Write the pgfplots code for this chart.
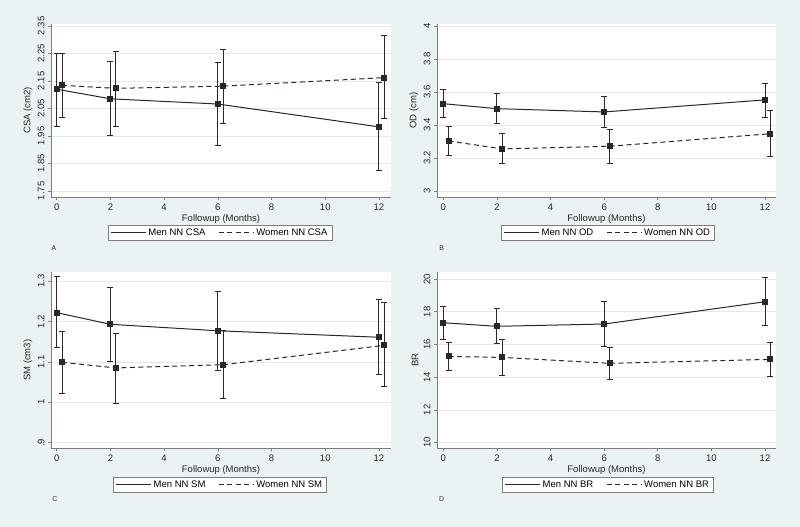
\documentclass[border=0pt]{standalone}
\usepackage{fontspec}
\setmainfont{Liberation Sans}
\usepackage{pgfplots}
\usepackage{pgfplotstable}
\pgfplotsset{compat=1.18}
\definecolor{bg}{RGB}{234,242,243}
\definecolor{gridc}{RGB}{226,234,236}
\definecolor{axc}{RGB}{125,125,125}
\definecolor{ln}{RGB}{40,40,40}

% x y lo hi
\pgfplotstableread{
x y lo hi
0 2.120 1.986 2.248
2 2.085 1.950 2.220
6 2.066 1.915 2.218
12 1.983 1.824 2.145
}\menA
\pgfplotstableread{
x y lo hi
0.2 2.134 2.018 2.248
2.2 2.123 1.986 2.257
6.2 2.131 1.994 2.265
12.2 2.162 2.012 2.314
}\womenA
\pgfplotstableread{
x y lo hi
0 3.529 3.448 3.612
2 3.499 3.408 3.590
6 3.479 3.384 3.574
12 3.552 3.448 3.650
}\menB
\pgfplotstableread{
x y lo hi
0.2 3.303 3.216 3.390
2.2 3.255 3.166 3.347
6.2 3.271 3.168 3.370
12.2 3.347 3.210 3.489
}\womenB
\pgfplotstableread{
x y lo hi
0 1.222 1.135 1.312
2 1.193 1.100 1.284
6 1.177 1.079 1.275
12 1.161 1.070 1.254
}\menC
\pgfplotstableread{
x y lo hi
0.2 1.099 1.022 1.176
2.2 1.085 0.998 1.171
6.2 1.093 1.010 1.177
12.2 1.141 1.038 1.248
}\womenC
\pgfplotstableread{
x y lo hi
0 17.33 16.31 18.33
2 17.11 16.03 18.19
6 17.25 15.89 18.61
12 18.61 17.15 20.10
}\menD
\pgfplotstableread{
x y lo hi
0.2 15.27 14.40 16.15
2.2 15.21 14.13 16.29
6.2 14.85 13.89 15.82
12.2 15.09 14.05 16.11
}\womenD

\pgfplotsset{
  panel/.style={
    scale only axis, width=340pt, height=173pt,
    axis lines=left, axis line style={-, axc, line width=0.6pt},
    axis background/.style={fill=white},
    tick align=outside, major tick length=3pt, tick style={axc, line width=0.6pt},
    xtick={0,2,4,6,8,10,12}, xticklabels={0,2,4,6,8,10,12},
    ymajorgrids, grid style={gridc, line width=0.6pt},
    ticklabel style={font=\fontsize{9.5}{11}\selectfont, text=black!85},
    yticklabel style={rotate=90, anchor=south},
    label style={font=\fontsize{9.5}{11}\selectfont, text=black!85},
    xlabel={Followup (Months)},
    xlabel style={yshift=3pt},
    ylabel style={yshift=-1.5pt},
    legend columns=2,
    legend cell align=left,
    legend style={draw=axc, fill=white, anchor=center, line width=0.6pt,
      font=\fontsize{9.5}{11}\selectfont, inner xsep=2.5pt, inner ysep=1.5pt,
      /tikz/every even column/.append style={column sep=11pt}},
    legend image code/.code={\draw[##1, line width=0.9pt] (0pt,0pt) -- (35pt,0pt);},
  },
  men/.style={ln, line width=1pt, mark=square*, mark size=2.5pt, mark options={solid, fill=ln}},
  women/.style={ln, line width=1pt, dash pattern=on 5pt off 3.5pt, mark=square*, mark size=2.5pt, mark options={solid, fill=ln}},
  eb/.style={error bars/.cd, y dir=both, y explicit,
    error bar style={line width=1pt, solid, ln},
    error mark options={rotate=90, mark size=3pt, line width=1pt, solid, ln}},
}

\begin{document}
\begin{tikzpicture}[x=1pt,y=1pt]
\fill[bg] (0,0) rectangle (800,527);

% Panel A
\begin{axis}[panel, at={(51pt,330pt)}, anchor=south west,
  xmin=-0.212, xmax=12.447, ymin=1.728, ymax=2.357,
  ytick={1.75,1.85,1.95,2.05,2.15,2.25,2.35},
  yticklabels={1.75,1.85,1.95,2.05,2.15,2.25,2.35},
  ylabel={CSA (cm2)},
  legend style={at={(0.497,-0.205)}}]
\addplot+[men, eb] table[x=x, y=y, y error plus expr=\thisrow{hi}-\thisrow{y}, y error minus expr=\thisrow{y}-\thisrow{lo}] {\menA};
\addlegendentry{Men NN CSA}
\addplot+[women, eb] table[x=x, y=y, y error plus expr=\thisrow{hi}-\thisrow{y}, y error minus expr=\thisrow{y}-\thisrow{lo}] {\womenA};
\addlegendentry{Women NN CSA}
\end{axis}

% Panel B
\begin{axis}[panel, width=339pt, at={(437pt,330pt)}, anchor=south west,
  xmin=-0.235, xmax=12.41, ymin=2.9636, ymax=4.012,
  ytick={3,3.2,3.4,3.6,3.8,4},
  yticklabels={3,3.2,3.4,3.6,3.8,4},
  ylabel={OD (cm)},
  legend style={at={(0.504,-0.205)}}]
\addplot+[men, eb] table[x=x, y=y, y error plus expr=\thisrow{hi}-\thisrow{y}, y error minus expr=\thisrow{y}-\thisrow{lo}] {\menB};
\addlegendentry{Men NN OD}
\addplot+[women, eb] table[x=x, y=y, y error plus expr=\thisrow{hi}-\thisrow{y}, y error minus expr=\thisrow{y}-\thisrow{lo}] {\womenB};
\addlegendentry{Women NN OD}
\end{axis}

% Panel C
\begin{axis}[panel, height=176.5pt, at={(51pt,78.5pt)}, anchor=south west,
  xmin=-0.212, xmax=12.447, ymin=0.8856, ymax=1.3225,
  ytick={0.9,1,1.1,1.2,1.3},
  yticklabels={.9,1,1.1,1.2,1.3},
  ylabel={SM (cm3)},
  legend style={at={(0.497,-0.205)}}]
\addplot+[men, eb] table[x=x, y=y, y error plus expr=\thisrow{hi}-\thisrow{y}, y error minus expr=\thisrow{y}-\thisrow{lo}] {\menC};
\addlegendentry{Men NN SM}
\addplot+[women, eb] table[x=x, y=y, y error plus expr=\thisrow{hi}-\thisrow{y}, y error minus expr=\thisrow{y}-\thisrow{lo}] {\womenC};
\addlegendentry{Women NN SM}
\end{axis}

% Panel D
\begin{axis}[panel, width=339pt, height=176.5pt, at={(437pt,78.5pt)}, anchor=south west,
  xmin=-0.235, xmax=12.41, ymin=9.646, ymax=20.428,
  ytick={10,12,14,16,18,20},
  yticklabels={10,12,14,16,18,20},
  ylabel={BR},
  legend style={at={(0.504,-0.205)}}]
\addplot+[men, eb] table[x=x, y=y, y error plus expr=\thisrow{hi}-\thisrow{y}, y error minus expr=\thisrow{y}-\thisrow{lo}] {\menD};
\addlegendentry{Men NN BR}
\addplot+[women, eb] table[x=x, y=y, y error plus expr=\thisrow{hi}-\thisrow{y}, y error minus expr=\thisrow{y}-\thisrow{lo}] {\womenD};
\addlegendentry{Women NN BR}
\end{axis}

\node[font=\fontsize{7}{8}\selectfont, text=black!80] at (54,279) {A};
\node[font=\fontsize{7}{8}\selectfont, text=black!80] at (441.7,279) {B};
\node[font=\fontsize{7}{8}\selectfont, text=black!80] at (55,28) {C};
\node[font=\fontsize{7}{8}\selectfont, text=black!80] at (441.7,28) {D};

\pgfresetboundingbox
\path[use as bounding box] (0,0) rectangle (800,527);
\end{tikzpicture}
\end{document}
